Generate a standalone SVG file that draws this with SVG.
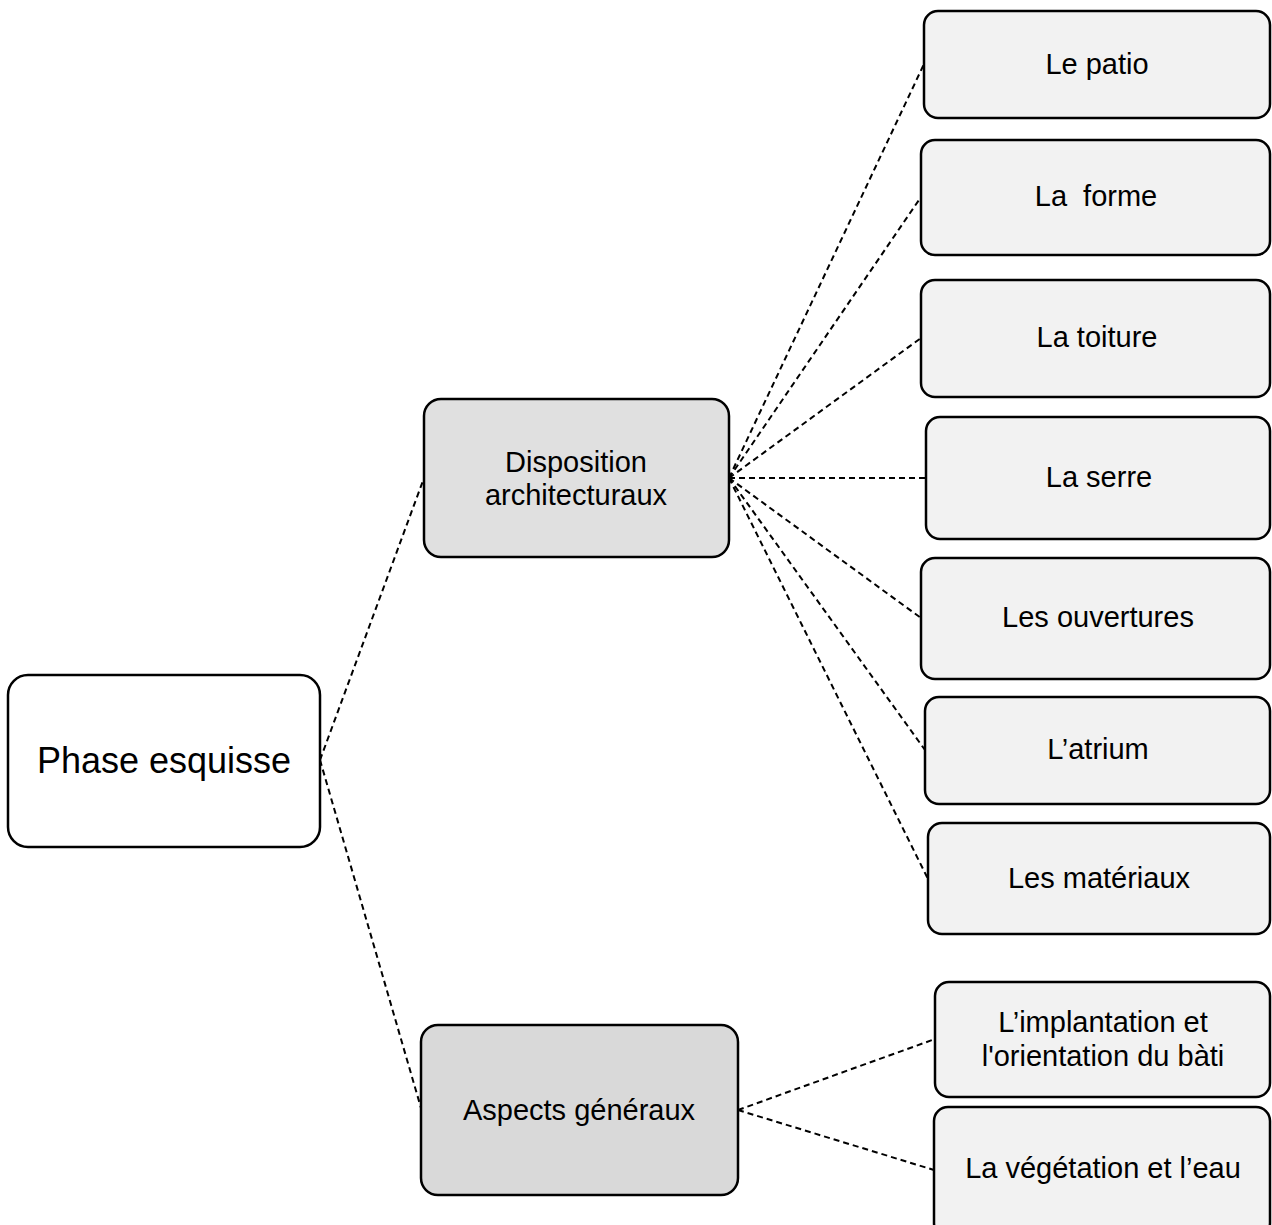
<svg xmlns="http://www.w3.org/2000/svg" width="1272" height="1225" viewBox="0 0 1272 1225">
<style>
.box{stroke:#000;stroke-width:2.5}
.root{fill:#fff}
.mid{fill:#e0e0e0}
.mid2{fill:#d9d9d9}
.leaf{fill:#f2f2f2}
text{font-family:"Liberation Sans",Arial,sans-serif;font-size:29px;fill:#000;text-anchor:middle}
.big{font-size:36px}
.con line{stroke:#000;stroke-width:2;stroke-dasharray:6 4;fill:none}
</style>
<rect width="1272" height="1225" fill="#fff"/>
<g class="con" id="connectors">
<line x1="320" y1="760" x2="424" y2="478"/>
<line x1="320" y1="760" x2="421" y2="1108"/>
<line x1="729" y1="478" x2="924" y2="64"/>
<line x1="729" y1="478" x2="921" y2="197"/>
<line x1="729" y1="478" x2="921" y2="338"/>
<line x1="729" y1="478" x2="926" y2="478"/>
<line x1="729" y1="478" x2="921" y2="618"/>
<line x1="729" y1="478" x2="925" y2="750"/>
<line x1="729" y1="478" x2="928" y2="879"/>
<line x1="738" y1="1110" x2="935" y2="1039"/>
<line x1="738" y1="1110" x2="934" y2="1170"/>
</g>
<g id="phase-esquisse"><rect class="box root" x="8" y="675" width="312" height="172" rx="20"/><text class="big" x="164" y="773">Phase esquisse</text></g>
<g id="disposition"><rect class="box mid" x="424" y="399" width="305" height="158" rx="17"/><text x="576" y="472">Disposition</text><text x="576" y="505">architecturaux</text></g>
<g id="aspects"><rect class="box mid2" x="421" y="1025" width="317" height="170" rx="17"/><text x="579" y="1120">Aspects généraux</text></g>
<g id="patio"><rect class="box leaf" x="924" y="11" width="346" height="107" rx="14"/><text x="1097" y="74">Le patio</text></g>
<g id="forme"><rect class="box leaf" x="921" y="140" width="349" height="115" rx="14"/><text x="1096" y="206" xml:space="preserve">La  forme</text></g>
<g id="toiture"><rect class="box leaf" x="921" y="280" width="349" height="117" rx="14"/><text x="1097" y="347">La toiture</text></g>
<g id="serre"><rect class="box leaf" x="926" y="417" width="344" height="122" rx="14"/><text x="1099" y="487">La serre</text></g>
<g id="ouvertures"><rect class="box leaf" x="921" y="558" width="349" height="121" rx="14"/><text x="1098" y="627">Les ouvertures</text></g>
<g id="atrium"><rect class="box leaf" x="925" y="697" width="345" height="107" rx="14"/><text x="1098" y="759">L’atrium</text></g>
<g id="materiaux"><rect class="box leaf" x="928" y="823" width="342" height="111" rx="14"/><text x="1099" y="888">Les matériaux</text></g>
<g id="implantation"><rect class="box leaf" x="935" y="982" width="335" height="115" rx="14"/><text x="1103" y="1032">L’implantation et</text><text x="1103" y="1066">l'orientation du bàti</text></g>
<g id="vegetation"><rect class="box leaf" x="934" y="1107" width="336" height="130" rx="14"/><text x="1103" y="1178">La végétation et l’eau</text></g>
</svg>
